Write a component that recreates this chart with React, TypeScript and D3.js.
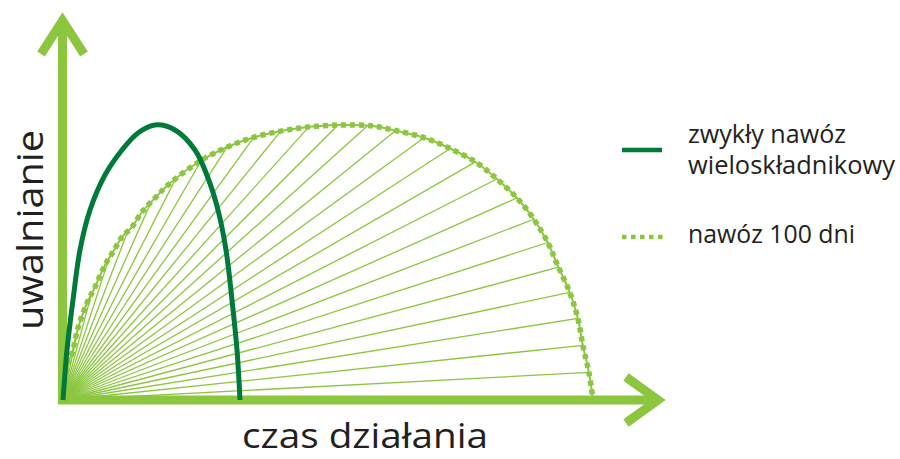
import React, { useEffect, useRef } from "react";
import * as d3 from "d3";

// Light "100 days" release curve (x = time, y = release)
const lightX = [0, 2, 5, 9, 15, 24, 32, 42, 50, 59, 69, 79, 92, 105, 134, 162, 192, 237, 277, 310, 330, 359, 384, 414, 435, 454, 470, 485, 494, 507, 515, 520, 526, 530];
const lightY = [0, 17, 37, 47, 72, 97, 113, 135, 148, 163, 173, 188, 202, 215, 237, 252, 263, 272, 275, 274, 270, 263, 253, 237, 220, 202, 182, 157, 136, 107, 81, 54, 27, 0];

// Dark "ordinary fertilizer" curve
const darkX = [0, 4, 10, 17, 27, 42, 59, 75, 92, 112, 132, 145, 155, 163, 169, 174, 177];
const darkY = [0, 50, 100, 150, 190, 225, 250, 267, 275, 270, 250, 222, 190, 150, 100, 50, 0];

// Fan line angles (degrees from time axis)
const fanAngles = [3, 6, 9, 12, 15, 18, 21, 24, 27, 30, 33, 36, 39, 42, 45, 48, 51, 54, 57, 60, 63, 66, 69, 72, 75, 78, 81, 84, 87];

const yLabel = "uwalnianie";
const xLabel = "czas działania";
const legendLabels = [["zwykły nawóz", "wieloskładnikowy"], ["nawóz 100 dni"]];

const LIGHT = "#8cc63f";
const DARK = "#007a3a";
const TEXT = "#231f20";
const FONT = "'Open Sans', sans-serif";

export default function App() {
  const ref = useRef<SVGSVGElement | null>(null);

  useEffect(() => {
    const svg = d3.select(ref.current);
    svg.selectAll("*").remove();

    const x = d3.scaleLinear().domain([0, 600]).range([63, 663]);
    const y = d3.scaleLinear().domain([0, 300]).range([400, 100]);

    const x0 = x(0), y0 = y(0);

    // Axes
    const axW = 9;
    svg.append("line")
      .attr("x1", x0 - 0.5).attr("x2", x0 - 0.5)
      .attr("y1", y0 + 4).attr("y2", 20)
      .attr("stroke", LIGHT).attr("stroke-width", axW);
    svg.append("polyline")
      .attr("points", `${x0 - 22},54 ${x0 - 0.5},20.5 ${x0 + 21},54`)
      .attr("fill", "none").attr("stroke", LIGHT).attr("stroke-width", axW)
      .attr("stroke-linejoin", "miter").attr("stroke-miterlimit", 10);
    svg.append("line")
      .attr("x1", x0 - 5).attr("x2", 658)
      .attr("y1", y0).attr("y2", y0)
      .attr("stroke", LIGHT).attr("stroke-width", axW);
    svg.append("polyline")
      .attr("points", `626,377 658,${y0} 626,423`)
      .attr("fill", "none").attr("stroke", LIGHT).attr("stroke-width", axW)
      .attr("stroke-linejoin", "miter").attr("stroke-miterlimit", 10);

    const lightData = lightX.map((v, i) => [v, lightY[i]] as [number, number]);
    const darkData = darkX.map((v, i) => [v, darkY[i]] as [number, number]);

    const line = d3.line<[number, number]>()
      .x(d => x(d[0])).y(d => y(d[1]))
      .curve(d3.curveCatmullRom.alpha(0.5));

    const lightPathD = line(lightData) || "";

    // fan lines: intersect rays from origin with the light curve
    const fanG = svg.append("g");
    const lightBase = svg.append("path")
      .attr("d", lightPathD)
      .attr("fill", "none").attr("stroke", LIGHT).attr("stroke-width", 2);
    const node = lightBase.node() as SVGPathElement;
    const total = node.getTotalLength();
    const N = 3000;
    const samples: { px: number; py: number; a: number }[] = [];
    for (let i = 0; i <= N; i++) {
      const p = node.getPointAtLength((total * i) / N);
      const a = (Math.atan2(y0 - p.y, p.x - x0) * 180) / Math.PI;
      samples.push({ px: p.x, py: p.y, a });
    }
    fanAngles.forEach(ang => {
      let best = samples[samples.length - 1];
      for (let i = 1; i < samples.length; i++) {
        const s0 = samples[i - 1], s1 = samples[i];
        if ((s0.a - ang) * (s1.a - ang) <= 0 && s0.a > 0.5) {
          const t = (ang - s0.a) / (s1.a - s0.a || 1);
          best = { px: s0.px + t * (s1.px - s0.px), py: s0.py + t * (s1.py - s0.py), a: ang };
          break;
        }
      }
      fanG.append("line")
        .attr("x1", x0).attr("y1", y0)
        .attr("x2", best.px).attr("y2", best.py)
        .attr("stroke", LIGHT).attr("stroke-width", 1.3);
    });

    // dotted squares along the light curve
    svg.append("path")
      .attr("d", lightPathD)
      .attr("fill", "none").attr("stroke", LIGHT).attr("stroke-width", 5.5)
      .attr("stroke-dasharray", "5 4");

    // dark curve
    svg.append("path")
      .attr("d", line(darkData) || "")
      .attr("fill", "none").attr("stroke", DARK).attr("stroke-width", 5);

    // axis labels
    svg.append("text")
      .attr("transform", "translate(43,230) rotate(-90)")
      .attr("text-anchor", "middle")
      .attr("font-family", FONT).attr("font-size", 36)
      .attr("fill", TEXT)
      .attr("textLength", 200).attr("lengthAdjust", "spacingAndGlyphs")
      .text(yLabel);
    svg.append("text")
      .attr("x", 365).attr("y", 448)
      .attr("text-anchor", "middle")
      .attr("font-family", FONT).attr("font-size", 35)
      .attr("fill", TEXT)
      .attr("textLength", 246).attr("lengthAdjust", "spacingAndGlyphs")
      .text(xLabel);

    // legend
    svg.append("line")
      .attr("x1", 622).attr("x2", 662).attr("y1", 150).attr("y2", 150)
      .attr("stroke", DARK).attr("stroke-width", 4.5);
    svg.append("line")
      .attr("x1", 622).attr("x2", 664).attr("y1", 237).attr("y2", 237)
      .attr("stroke", LIGHT).attr("stroke-width", 4.5)
      .attr("stroke-dasharray", "4.5 4.5");

    const lg = [
      { text: legendLabels[0][0], y: 143, len: 158 },
      { text: legendLabels[0][1], y: 174, len: 207 },
      { text: legendLabels[1][0], y: 243, len: 167 },
    ];
    lg.forEach(l => {
      svg.append("text")
        .attr("x", 688).attr("y", l.y)
        .attr("font-family", FONT).attr("font-size", 25)
        .attr("fill", TEXT)
        .attr("textLength", l.len).attr("lengthAdjust", "spacingAndGlyphs")
        .text(l.text);
    });
  }, []);

  return (
    <svg
      ref={ref}
      width={900}
      height={459}
      style={{ position: "absolute", left: 0, top: 0, background: "#fff" }}
    />
  );
}
